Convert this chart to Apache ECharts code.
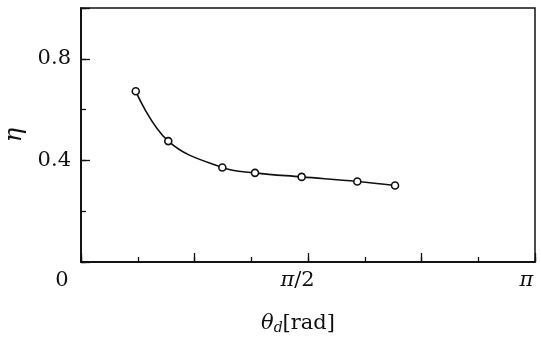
<!DOCTYPE html>
<html>
<head>
<meta charset="utf-8">
<script src="https://cdn.jsdelivr.net/npm/echarts@6/dist/echarts.min.js"></script>
<style>
  html, body { margin: 0; padding: 0; background: #fff; }
  #container { width: 541px; height: 340px; }
</style>
</head>
<body>
<div id="container"></div>
<script>
var PI = Math.PI;

// measured points: theta_d [rad] and eta
var thetaValues = [0.379, 0.604, 0.978, 1.204, 1.527, 1.912, 2.173];
var etaValues = [0.672, 0.476, 0.372, 0.351, 0.335, 0.317, 0.301];

// tick labels
var xLabelValues = [0, PI / 2, PI];
var xLabelTexts = ['{z|0}', '{p|π}{h|/2}', '{q|π}'];
var yLabelValues = [0.4, 0.8];
var yLabelTexts = ['0.4', '0.8'];

var serif = 'DejaVu Serif';

function pickLabel(v, vals, texts) {
    for (var i = 0; i < vals.length; i++) {
        if (Math.abs(v - vals[i]) < 1e-6) return texts[i];
    }
    return '';
}

var points = [];
for (var i = 0; i < thetaValues.length; i++) {
    points.push([thetaValues[i], etaValues[i]]);
}

var dom = document.getElementById('container');
var myChart = echarts.init(dom);

var axisLine = {lineStyle: {color: '#111', width: 1.5}};

var option = {
    animation: false,
    backgroundColor: '#fff',
    grid: {
        left: 81,
        right: 6,
        top: 8,
        bottom: 78,
        outerBoundsMode: 'none',
        containLabel: false,
        show: true,
        borderColor: '#111',
        borderWidth: 1.5
    },
    xAxis: [
        {
            type: 'value',
            min: 0,
            max: PI,
            interval: PI / 4,
            axisLine: axisLine,
            axisTick: {inside: true, length: 9, lineStyle: {color: '#111', width: 1.3}},
            splitLine: {show: false},
            axisLabel: {
                margin: 8,
                fontFamily: serif,
                fontSize: 21,
                color: '#111',
                formatter: function (v) {
                    return pickLabel(v, xLabelValues, xLabelTexts);
                },
                rich: {
                    z: {fontFamily: serif, fontSize: 21, color: '#111', padding: [0, 38, 0, 0]},
                    p: {fontFamily: serif, fontSize: 21, fontStyle: 'italic', color: '#111'},
                    h: {fontFamily: serif, fontSize: 21, color: '#111', padding: [0, 21, 0, 0]},
                    q: {fontFamily: serif, fontSize: 21, fontStyle: 'italic', color: '#111', padding: [0, 17, 0, 0]}
                }
            },
            name: '{t|θ}{s|d}{r|[rad]}',
            nameLocation: 'middle',
            nameGap: 50,
            nameTextStyle: {
                padding: [0, 20, 0, 0],
                rich: {
                    t: {fontFamily: serif, fontSize: 21, fontStyle: 'italic', color: '#111'},
                    s: {fontFamily: serif, fontSize: 14, fontStyle: 'italic', color: '#111', verticalAlign: 'bottom', padding: [9, 0, 0, 0]},
                    r: {fontFamily: serif, fontSize: 21, color: '#111'}
                }
            }
        },
        {
            type: 'value',
            min: 0,
            max: PI,
            interval: PI / 8,
            position: 'bottom',
            axisLine: axisLine,
            axisTick: {inside: true, length: 5, lineStyle: {color: '#111', width: 1.3}},
            splitLine: {show: false},
            axisLabel: {show: false}
        }
    ],
    yAxis: [
        {
            type: 'value',
            min: 0,
            max: 1.0,
            interval: 0.4,
            axisLine: axisLine,
            axisTick: {inside: true, length: 9, lineStyle: {color: '#111', width: 1.3}},
            splitLine: {show: false},
            axisLabel: {
                margin: 10,
                fontFamily: serif,
                fontSize: 21,
                color: '#111',
                formatter: function (v) {
                    return pickLabel(v, yLabelValues, yLabelTexts);
                }
            },
            name: 'η',
            nameLocation: 'middle',
            nameGap: 46,
            nameTextStyle: {fontFamily: serif, fontSize: 24, fontStyle: 'italic', color: '#111'}
        },
        {
            type: 'value',
            min: 0,
            max: 1.0,
            interval: 0.2,
            position: 'left',
            axisLine: axisLine,
            axisTick: {inside: true, length: 5, lineStyle: {color: '#111', width: 1.3}},
            splitLine: {show: false},
            axisLabel: {show: false}
        }
    ],
    series: [
        {
            type: 'line',
            data: points,
            smooth: 0.4,
            symbol: 'circle',
            symbolSize: 7,
            lineStyle: {color: '#111', width: 1.6},
            itemStyle: {color: '#fff', borderColor: '#111', borderWidth: 1.6}
        }
    ]
};

myChart.setOption(option, true);
</script>
</body>
</html>
